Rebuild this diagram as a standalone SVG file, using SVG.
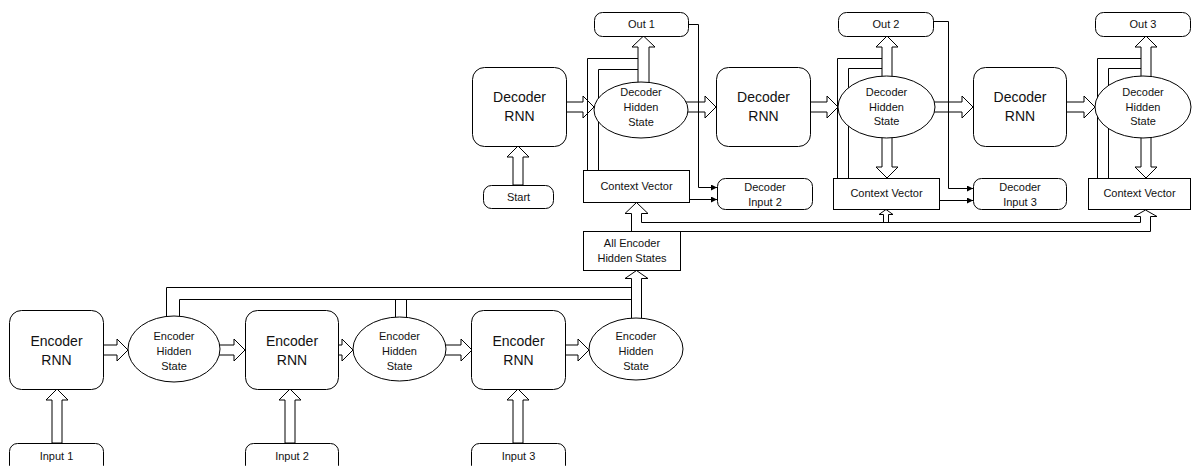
<svg xmlns="http://www.w3.org/2000/svg" width="1192" height="466" viewBox="0 0 1192 466">
  <defs>
    <style>
      .box { fill: #fff; stroke: #000; stroke-width: 1; }
      .blk { fill: #fff; stroke: #000; stroke-width: 1; stroke-linejoin: miter; }
      .ln { fill: none; stroke: #000; stroke-width: 1; }
      .t14 { font-family: "Liberation Sans", Arial, sans-serif; font-size: 14px; fill: #111; text-anchor: middle; }
      .t11 { font-family: "Liberation Sans", Arial, sans-serif; font-size: 11px; fill: #111; text-anchor: middle; }
    </style>
    <marker id="tip" viewBox="0 0 6 6" refX="6" refY="3" markerWidth="6" markerHeight="6" markerUnits="userSpaceOnUse" orient="auto">
      <path d="M0,0 L6,3 L0,6 z" fill="#000"/>
    </marker>
  </defs>

  <rect width="1192" height="466" fill="#fff"/>

  <!-- connectors -->
  <g id="connectors">
    <!-- encoder hidden states piped into the collector box -->
    <path class="ln" d="M166.5,317 V287.5 H631.5"/>
    <path class="ln" d="M179.5,316 V299.5 H631.5"/>
    <path class="ln" d="M395.5,317 V299.5 M406.5,317 V299.5"/>
    <polyline class="blk" points="631.5,318 631.5,278.5 625,278.5 636.5,270.5 648,278.5 641.5,278.5 641.5,318"/>

    <!-- collector to context vectors -->
    <polyline class="ln" points="631.5,231 631.5,213.5 625,213.5 636.5,202.5 648,213.5 641.5,213.5 641.5,222.5 1140.5,222.5 1140.5,216.5 1134,216.5 1145.5,210 1157,216.5 1150.5,216.5 1150.5,231.5 680.5,231.5"/>
    <polyline class="ln" points="883.5,222.5 883.5,214.5 879,214.5 886,209.5 893,214.5 888.5,214.5 888.5,222.5"/>

    <!-- encoder flow -->
    <polygon class="blk" points="103,345 117,345 117,339 128,350 117,361 117,355 103,355"/>
    <polygon class="blk" points="216,345 234,345 234,339 245,350 234,361 234,355 216,355"/>
    <polygon class="blk" points="338,345 342,345 342,339 353,350 342,361 342,355 338,355"/>
    <polygon class="blk" points="442,345 461,345 461,339 472,350 461,361 461,355 442,355"/>
    <polygon class="blk" points="565,345 578,345 578,339 589,350 578,361 578,355 565,355"/>

    <!-- inputs -->
    <polygon class="blk" points="52,443 52,400 46,400 57,389 68,400 62,400 62,443"/>
    <polygon class="blk" points="285,443 285,400 279,400 290,389 301,400 295,400 295,443"/>
    <polygon class="blk" points="513,443 513,400 507,400 518,389 529,400 523,400 523,443"/>
    <polygon class="blk" points="513,185 513,157 507,157 518,146 529,157 523,157 523,185"/>

    <!-- decoder flow -->
    <polygon class="blk" points="566,102 583,102 583,96 594,107 583,118 583,112 566,112"/>
    <polygon class="blk" points="684,102 705,102 705,96 716,107 705,118 705,112 684,112"/>
    <polygon class="blk" points="810,102 827,102 827,96 838,107 827,118 827,112 810,112"/>
    <polygon class="blk" points="931,102 962,102 962,96 973,107 962,118 962,112 931,112"/>
    <polygon class="blk" points="1066,102 1084,102 1084,96 1095,107 1084,118 1084,112 1066,112"/>

    <!-- hidden state to outputs -->
    <polygon class="blk" points="638,90 638,47 632,47 643.5,36 655,47 649,47 649,90"/>
    <polygon class="blk" points="882,84 882,47 876,47 887,36 898,47 892,47 892,84"/>
    <polygon class="blk" points="1141,84 1141,47 1135,47 1146,36 1157,47 1151,47 1151,84"/>

    <!-- hidden state down to context vectors -->
    <polygon class="blk" points="882,130 882,167 876,167 887,178 898,167 892,167 892,130"/>
    <polygon class="blk" points="1141,130 1141,167 1135,167 1146,178 1157,167 1151,167 1151,130"/>

    <!-- context vectors back into hidden states -->
    <path class="ln" d="M587.5,170 V58.5 H638 M598.5,170 V69.5 H638"/>
    <path class="ln" d="M837.5,178 V58.5 H882 M848.5,178 V68.5 H882"/>
    <path class="ln" d="M1097.5,178 V58.5 H1141 M1108.5,178 V68.5 H1141"/>

    <!-- outputs and context into next decoder inputs -->
    <path class="ln" d="M688,24.5 H698.5 V187.5 H717" marker-end="url(#tip)"/>
    <path class="ln" d="M689,199.5 H717" marker-end="url(#tip)"/>
    <path class="ln" d="M933,21.5 H948.5 V188.5 H973" marker-end="url(#tip)"/>
    <path class="ln" d="M939,200.5 H973" marker-end="url(#tip)"/>
  </g>

  <!-- encoder side -->
  <g id="encoder-rnn-1">
    <rect class="box" x="9.5" y="310.5" width="94" height="79" rx="12"/>
    <text class="t14" x="56.5" y="346">Encoder</text>
    <text class="t14" x="56.5" y="365">RNN</text>
  </g>
  <g id="encoder-rnn-2">
    <rect class="box" x="245.5" y="310.5" width="93" height="79" rx="12"/>
    <text class="t14" x="292" y="346">Encoder</text>
    <text class="t14" x="292" y="365">RNN</text>
  </g>
  <g id="encoder-rnn-3">
    <rect class="box" x="471.5" y="310.5" width="94" height="79" rx="12"/>
    <text class="t14" x="518.5" y="346">Encoder</text>
    <text class="t14" x="518.5" y="365">RNN</text>
  </g>
  <g id="encoder-hidden-1">
    <ellipse class="box" cx="174" cy="349" rx="46" ry="33"/>
    <text class="t11" x="174" y="340">Encoder</text>
    <text class="t11" x="174" y="355">Hidden</text>
    <text class="t11" x="174" y="370">State</text>
  </g>
  <g id="encoder-hidden-2">
    <ellipse class="box" cx="399.5" cy="349" rx="46.5" ry="32"/>
    <text class="t11" x="399.5" y="340">Encoder</text>
    <text class="t11" x="399.5" y="355">Hidden</text>
    <text class="t11" x="399.5" y="370">State</text>
  </g>
  <g id="encoder-hidden-3">
    <ellipse class="box" cx="636" cy="349" rx="47" ry="31"/>
    <text class="t11" x="636" y="340">Encoder</text>
    <text class="t11" x="636" y="355">Hidden</text>
    <text class="t11" x="636" y="370">State</text>
  </g>
  <g id="input-1">
    <rect class="box" x="9.5" y="443.5" width="94" height="30" rx="8"/>
    <text class="t11" x="56.5" y="460">Input 1</text>
  </g>
  <g id="input-2">
    <rect class="box" x="245.5" y="443.5" width="93" height="30" rx="8"/>
    <text class="t11" x="292" y="460">Input 2</text>
  </g>
  <g id="input-3">
    <rect class="box" x="471.5" y="443.5" width="94" height="30" rx="8"/>
    <text class="t11" x="518.5" y="460">Input 3</text>
  </g>
  <g id="all-encoder-hidden">
    <rect class="box" x="583.5" y="231.5" width="97" height="39"/>
    <text class="t11" x="632" y="247">All Encoder</text>
    <text class="t11" x="632" y="262">Hidden States</text>
  </g>

  <!-- decoder side -->
  <g id="decoder-rnn-1">
    <rect class="box" x="472.5" y="67.5" width="94" height="79" rx="12"/>
    <text class="t14" x="519.5" y="102">Decoder</text>
    <text class="t14" x="519.5" y="121">RNN</text>
  </g>
  <g id="decoder-rnn-2">
    <rect class="box" x="716.5" y="67.5" width="94" height="79" rx="12"/>
    <text class="t14" x="763.5" y="102">Decoder</text>
    <text class="t14" x="763.5" y="121">RNN</text>
  </g>
  <g id="decoder-rnn-3">
    <rect class="box" x="973.5" y="67.5" width="93" height="79" rx="12"/>
    <text class="t14" x="1020" y="102">Decoder</text>
    <text class="t14" x="1020" y="121">RNN</text>
  </g>
  <g id="start">
    <rect class="box" x="483.5" y="185.5" width="70" height="23" rx="8"/>
    <text class="t11" x="518.5" y="201">Start</text>
  </g>
  <g id="decoder-hidden-1">
    <ellipse class="box" cx="641" cy="110" rx="47" ry="28"/>
    <text class="t11" x="641" y="96">Decoder</text>
    <text class="t11" x="641" y="111">Hidden</text>
    <text class="t11" x="641" y="126">State</text>
  </g>
  <g id="decoder-hidden-2">
    <ellipse class="box" cx="886.5" cy="107" rx="48.5" ry="31"/>
    <text class="t11" x="886.5" y="96">Decoder</text>
    <text class="t11" x="886.5" y="111">Hidden</text>
    <text class="t11" x="886.5" y="125">State</text>
  </g>
  <g id="decoder-hidden-3">
    <ellipse class="box" cx="1143" cy="107" rx="48" ry="31"/>
    <text class="t11" x="1143" y="96">Decoder</text>
    <text class="t11" x="1143" y="111">Hidden</text>
    <text class="t11" x="1143" y="125">State</text>
  </g>
  <g id="out-1">
    <rect class="box" x="594.5" y="12.5" width="94" height="24" rx="8"/>
    <text class="t11" x="641.5" y="28">Out 1</text>
  </g>
  <g id="out-2">
    <rect class="box" x="838.5" y="12.5" width="95" height="24" rx="8"/>
    <text class="t11" x="886" y="28">Out 2</text>
  </g>
  <g id="out-3">
    <rect class="box" x="1095.5" y="12.5" width="95" height="24" rx="8"/>
    <text class="t11" x="1143" y="28">Out 3</text>
  </g>
  <g id="context-vector-1">
    <rect class="box" x="583.5" y="170.5" width="106" height="32"/>
    <text class="t11" x="636.5" y="190">Context Vector</text>
  </g>
  <g id="context-vector-2">
    <rect class="box" x="833.5" y="178.5" width="106" height="31"/>
    <text class="t11" x="886.5" y="197">Context Vector</text>
  </g>
  <g id="context-vector-3">
    <rect class="box" x="1088.5" y="178.5" width="102" height="31"/>
    <text class="t11" x="1139.5" y="197">Context Vector</text>
  </g>
  <g id="decoder-input-2">
    <rect class="box" x="717.5" y="178.5" width="95" height="31" rx="8"/>
    <text class="t11" x="765" y="191">Decoder</text>
    <text class="t11" x="765" y="206">Input 2</text>
  </g>
  <g id="decoder-input-3">
    <rect class="box" x="973.5" y="178.5" width="93" height="31" rx="8"/>
    <text class="t11" x="1020" y="191">Decoder</text>
    <text class="t11" x="1020" y="206">Input 3</text>
  </g>
</svg>
